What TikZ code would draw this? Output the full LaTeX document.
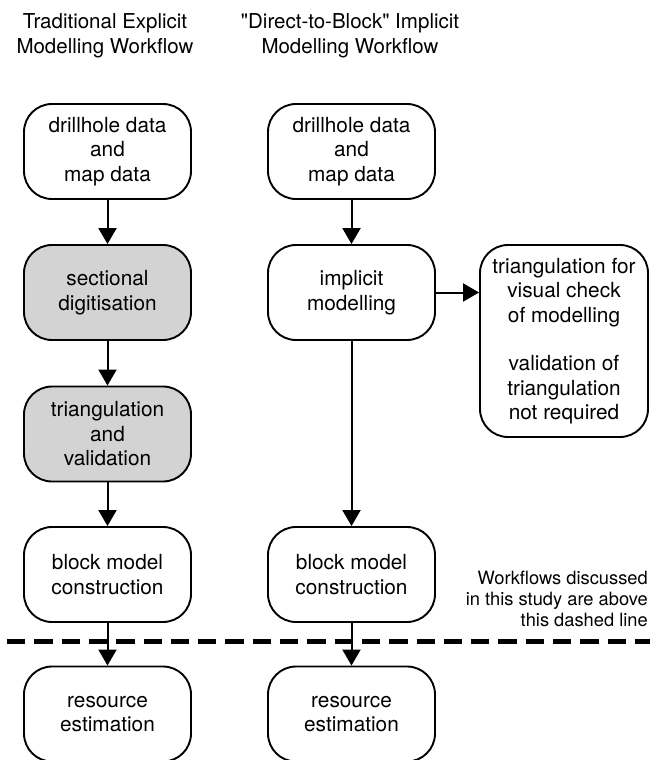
\documentclass[tikz,border=0pt]{standalone}
\usepackage{fontspec}
\setmainfont{TeX Gyre Heros}
\newfontfamily\helvplain{TeX Gyre Heros}
\usetikzlibrary{arrows.meta}
\definecolor{boxgray}{RGB}{211,211,211}
\tikzset{
  flowbox/.style={draw=black, line width=1.9pt, rounded corners=28pt, fill=white,
    minimum width=167pt, minimum height=95pt, align=center, inner sep=0pt,
    font=\fontsize{20.8}{24.5}\selectfont},
  shaded/.style={fill=boxgray},
  flowarrow/.style={line width=2pt, -{Triangle[length=16pt,width=18pt]}},
  titletext/.style={align=center, inner sep=0pt, font=\fontsize{20.5}{24.5}\selectfont},
  notetext/.style={align=right, inner sep=0pt, anchor=east, font=\fontsize{18.3}{21}\selectfont},
  cutline/.style={line width=5pt, dash pattern=on 18.3pt off 9pt}
}
\begin{document}
\begin{tikzpicture}[x=1pt,y=-1pt]
\useasboundingbox (0,0) rectangle (650,760);
% titles
\node[titletext] (t1) at (105,36) {Traditional Explicit\\Modelling Workflow};
\node[titletext] (t2) at (350,36) {{\helvplain"}Direct-to-Block{\helvplain"} Implicit\\Modelling Workflow};
% left column
\node[flowbox] (b1) at (107.5,151.5) {drillhole data\\and\\map data};
\node[flowbox, shaded] (b2) at (107.5,292.5) {sectional\\digitisation};
\node[flowbox, shaded] (b3) at (107.5,434) {triangulation\\and\\validation};
\node[flowbox] (b4) at (107.5,574.5) {block model\\construction};
\node[flowbox] (b5) at (107.5,714) {resource\\estimation};
% right column
\node[flowbox] (r1) at (351.5,151.5) {drillhole data\\and\\map data};
\node[flowbox] (r2) at (351.5,292.5) {implicit\\modelling};
\node[flowbox] (r4) at (351.5,574.5) {block model\\construction};
\node[flowbox] (r5) at (351.5,714) {resource\\estimation};
\node[flowbox, minimum width=168pt, minimum height=192pt] (rc) at (564,341)
  {triangulation for\\visual check\\of modelling\\[24pt]validation of\\triangulation\\not required};
% note
\node[notetext] (note) at (648,599) {Workflows discussed\\in this study are above\\this dashed line};
% dashed line
\coordinate (dl) at (7,641);
\coordinate (dr) at (650,641);
\draw[cutline] (dl) -- (dr);
% arrows
\draw[flowarrow] (b1) -- (b2);
\draw[flowarrow] (b2) -- (b3);
\draw[flowarrow] (b3) -- (b4);
\draw[flowarrow] (b4) -- (b5);
\draw[flowarrow] (r1) -- (r2);
\draw[flowarrow] (r2) -- (r4);
\draw[flowarrow] (r4) -- (r5);
\draw[flowarrow] (r2.east) -- (r2.east -| rc.west);
\end{tikzpicture}
\end{document}
